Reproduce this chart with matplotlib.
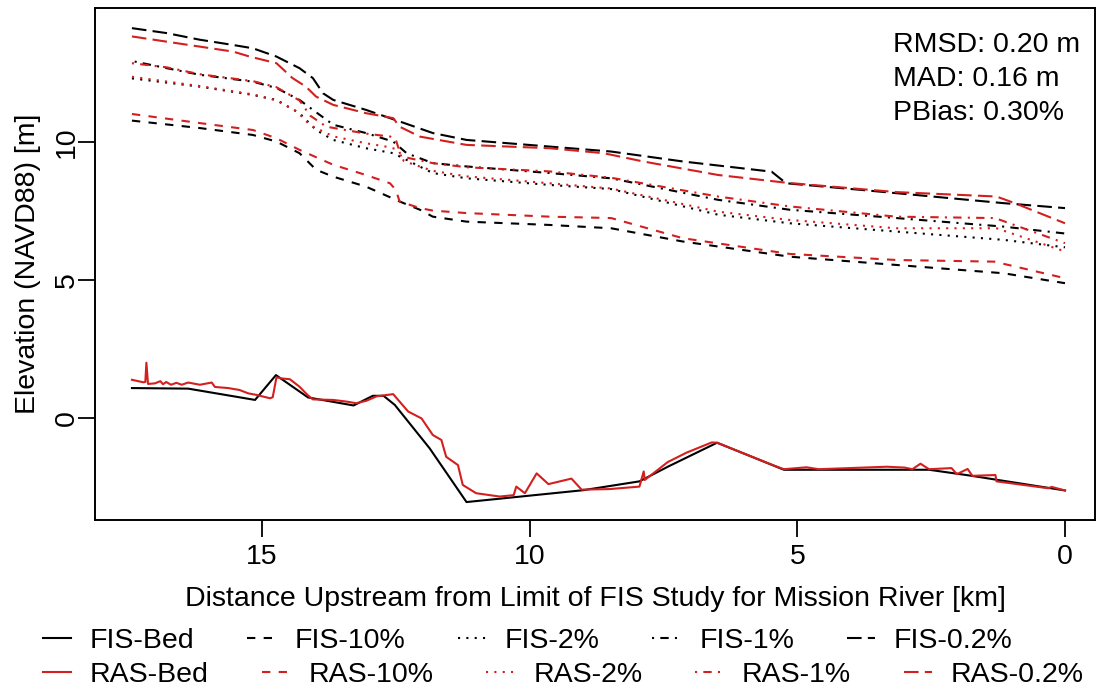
import matplotlib
matplotlib.use("Agg")
import matplotlib.pyplot as plt
from matplotlib.lines import Line2D

plt.rcParams['font.family'] = ['Liberation Sans', 'DejaVu Sans']

# ---- data: distance upstream [km] and elevation [m NAVD88] ----
fis_bed_km = [17.43, 16.38, 15.13, 14.74, 14.14, 13.29, 12.93, 12.73, 12.52, 11.87,
              11.18, 9.0, 7.95, 7.41, 6.50, 5.25, 2.54, 1.81, 0.0]
fis_bed_m = [1.08, 1.06, 0.65, 1.55, 0.74, 0.45, 0.80, 0.80, 0.47, -1.10,
             -3.05, -2.62, -2.30, -1.76, -0.90, -1.88, -1.88, -2.08, -2.63]

ras_bed_km = [17.43, 17.22, 17.18, 17.16, 17.13, 17.00, 16.90, 16.85, 16.79, 16.70,
              16.60, 16.50, 16.38, 16.16, 15.94, 15.88, 15.63, 15.42, 15.26, 15.10,
              14.85, 14.80, 14.73, 14.64, 14.48, 14.30, 14.15, 14.05, 13.67, 13.42,
              13.24, 13.05, 12.86, 12.55, 12.43, 12.27, 12.02, 11.81, 11.65, 11.56,
              11.34, 11.25, 11.00, 10.56, 10.30, 10.25, 10.09, 9.87, 9.65, 9.22,
              9.03, 8.51, 7.95, 7.87, 7.85, 7.42, 7.07, 6.60, 6.50, 5.42,
              5.25, 4.83, 4.60, 3.33, 3.00, 2.85, 2.70, 2.54, 2.12, 2.02,
              1.82, 1.73, 1.30, 1.28, 0.31, 0.25, 0.0]
ras_bed_m = [1.38, 1.29, 1.30, 2.00, 1.23, 1.25, 1.33, 1.22, 1.30, 1.20,
             1.27, 1.20, 1.28, 1.20, 1.28, 1.12, 1.08, 1.01, 0.89, 0.83,
             0.71, 0.75, 1.47, 1.43, 1.40, 1.13, 0.83, 0.67, 0.65, 0.59,
             0.53, 0.62, 0.78, 0.86, 0.59, 0.23, -0.02, -0.62, -0.80, -1.41,
             -1.71, -2.43, -2.73, -2.85, -2.80, -2.49, -2.73, -2.01, -2.40, -2.20,
             -2.60, -2.58, -2.49, -1.94, -2.25, -1.60, -1.26, -0.89, -0.90, -1.74,
             -1.86, -1.79, -1.86, -1.77, -1.80, -1.86, -1.66, -1.86, -1.82, -2.04,
             -1.85, -2.10, -2.07, -2.30, -2.55, -2.50, -2.63]

fis_10_km = [17.43, 16.16, 15.17, 14.73, 14.30, 13.99, 13.67, 13.06, 12.43, 12.05,
             11.81, 11.18, 9.63, 8.48, 7.14, 5.14, 3.15, 1.15, 0.0]
fis_10_m = [10.77, 10.50, 10.25, 10.01, 9.59, 8.99, 8.74, 8.38, 7.84, 7.54,
            7.29, 7.11, 6.99, 6.87, 6.39, 5.84, 5.54, 5.24, 4.88]

ras_10_km = [17.43, 16.16, 15.17, 14.73, 14.30, 13.67, 13.06, 12.61, 12.50, 12.43,
             12.05, 11.81, 11.18, 9.63, 8.48, 7.14, 5.14, 3.15, 1.32, 0.0]
ras_10_m = [11.01, 10.68, 10.43, 10.13, 9.71, 9.17, 8.80, 8.50, 8.26, 7.84,
            7.60, 7.51, 7.42, 7.29, 7.24, 6.51, 5.94, 5.72, 5.66, 5.06]

fis_2_km = [17.43, 16.16, 15.17, 14.73, 14.30, 13.99, 13.67, 13.06, 12.55, 12.18,
            11.81, 11.18, 9.63, 8.48, 6.48, 5.14, 3.15, 1.15, 0.0]
fis_2_m = [12.30, 12.00, 11.70, 11.52, 11.04, 10.43, 10.07, 9.77, 9.59, 9.23,
           8.87, 8.68, 8.44, 8.29, 7.36, 7.05, 6.75, 6.45, 6.18]

ras_2_km = [17.43, 16.16, 15.17, 14.73, 14.35, 14.10, 13.67, 13.06, 12.60, 12.45,
            12.35, 11.81, 11.18, 9.63, 8.48, 6.48, 5.14, 3.15, 1.28, 0.0]
ras_2_m = [12.36, 12.02, 11.72, 11.50, 11.10, 10.60, 10.20, 9.95, 9.80, 9.70,
           9.30, 8.95, 8.75, 8.50, 8.31, 7.47, 7.17, 6.87, 6.87, 6.03]

fis_1_km = [17.38, 16.78, 16.16, 15.17, 14.73, 14.30, 14.05, 13.67, 13.06, 12.55,
            12.30, 11.81, 11.18, 9.63, 8.48, 6.48, 5.14, 3.15, 1.15, 0.0]
fis_1_m = [12.91, 12.67, 12.43, 12.18, 11.95, 11.52, 11.16, 10.62, 10.32, 10.01,
           9.59, 9.23, 9.11, 8.87, 8.68, 7.90, 7.54, 7.24, 6.93, 6.68]

ras_1_km = [17.43, 16.78, 16.16, 15.17, 14.73, 14.30, 14.10, 13.80, 13.06, 12.60,
            12.50, 12.40, 11.81, 11.18, 9.63, 8.48, 6.48, 5.14, 3.15, 1.35, 1.28, 0.0]
ras_1_m = [12.85, 12.70, 12.45, 12.20, 11.98, 11.50, 10.95, 10.55, 10.30, 10.19,
           10.07, 9.47, 9.23, 9.08, 8.93, 8.70, 8.02, 7.66, 7.29, 7.24, 7.22, 6.33]

fis_02_km = [17.43, 16.78, 16.16, 15.54, 15.17, 14.73, 14.30, 14.05, 13.86, 13.67,
             13.06, 12.43, 11.81, 11.18, 9.63, 8.48, 7.14, 5.48, 5.21, 3.81, 2.48, 1.15, 0.0]
fis_02_m = [14.12, 13.94, 13.70, 13.51, 13.39, 13.09, 12.67, 12.31, 11.76, 11.52,
            11.16, 10.74, 10.32, 10.07, 9.83, 9.65, 9.29, 8.92, 8.50, 8.26, 8.02, 7.78, 7.60]

ras_02_km = [17.43, 16.78, 16.16, 15.54, 15.23, 14.73, 14.43, 14.18, 13.99, 13.67,
             13.06, 12.55, 12.43, 12.05, 11.18, 9.63, 8.62, 7.88, 6.48, 5.21, 3.15, 1.28, 0.94, 0.0]
ras_02_m = [13.82, 13.63, 13.45, 13.27, 13.09, 12.85, 12.31, 12.00, 11.64, 11.34,
            11.04, 10.86, 10.55, 10.19, 9.89, 9.77, 9.59, 9.29, 8.80, 8.52, 8.18, 8.02, 7.78, 7.05]

stats_lines = ["RMSD: 0.20 m", "MAD: 0.16 m", "PBias: 0.30%"]
x_ticks = [15, 10, 5, 0]
y_ticks = [0, 5, 10]

# ---- styles ----
BLACK = "#000000"
RED = "#d41f1f"
LW = 1.5
styles = {
    "Bed": "-",
    "10%": (0, (4, 4)),
    "2%": (0, (1, 3)),
    "1%": (0, (1, 3, 4, 3)),
    "0.2%": (0, (7, 3)),
}

FS = 20.5
W, H = 1097, 690
fig = plt.figure(figsize=(W / 100, H / 100), dpi=100)
left, right, top, bottom = 95, 1095, 8, 520
ax = fig.add_axes([left / W, 1 - bottom / H, (right - left) / W, (bottom - top) / H])

series = [
    ("FIS-Bed", fis_bed_km, fis_bed_m, BLACK, "Bed"),
    ("FIS-10%", fis_10_km, fis_10_m, BLACK, "10%"),
    ("FIS-2%", fis_2_km, fis_2_m, BLACK, "2%"),
    ("FIS-1%", fis_1_km, fis_1_m, BLACK, "1%"),
    ("FIS-0.2%", fis_02_km, fis_02_m, BLACK, "0.2%"),
    ("RAS-Bed", ras_bed_km, ras_bed_m, RED, "Bed"),
    ("RAS-10%", ras_10_km, ras_10_m, RED, "10%"),
    ("RAS-2%", ras_2_km, ras_2_m, RED, "2%"),
    ("RAS-1%", ras_1_km, ras_1_m, RED, "1%"),
    ("RAS-0.2%", ras_02_km, ras_02_m, RED, "0.2%"),
]
for label, xs, ys, col, key in series:
    ax.plot(xs, ys, color=col, linestyle=styles[key], linewidth=LW)

ax.set_xlim(18.12, -0.56)
ax.set_ylim(-3.70, 14.85)
ax.set_xticks(x_ticks)
ax.set_yticks(y_ticks)
ax.set_xticklabels([str(t) for t in x_ticks], fontsize=FS)
ax.set_yticklabels([str(t) for t in y_ticks], fontsize=FS, rotation=90, va="center")
ax.tick_params(axis="both", length=12, width=1.3, color="black")
ax.tick_params(axis="x", pad=5)
ax.tick_params(axis="y", pad=-1)
for sp in ax.spines.values():
    sp.set_linewidth(1.4)
ax.set_xlabel("Distance Upstream from Limit of FIS Study for Mission River [km]",
              fontsize=FS, labelpad=12)
ax.set_ylabel("Elevation (NAVD88) [m]", fontsize=FS, labelpad=9)

for i, s in enumerate(stats_lines):
    ax.text(0.798, 0.928 - i * 0.0665, s, transform=ax.transAxes,
            fontsize=FS, ha="left", va="center")

# two legend rows, each laid out horizontally
for row, (y_px, col) in enumerate([(641, BLACK), (675, RED)]):
    handles = [Line2D([], [], color=col, linestyle=styles[key], linewidth=LW)
               for (_, _, _, c, key) in series if c == col]
    labels = [lab for (lab, _, _, c, _) in series if c == col]
    leg = fig.legend(handles, labels, loc="center left",
                     bbox_to_anchor=(43 / W, 1 - y_px / H), ncol=5, frameon=False,
                     fontsize=FS, handlelength=1.0, handletextpad=0.65,
                     columnspacing=1.85, borderpad=0, borderaxespad=0)

fig.savefig("out.png", dpi=100)
